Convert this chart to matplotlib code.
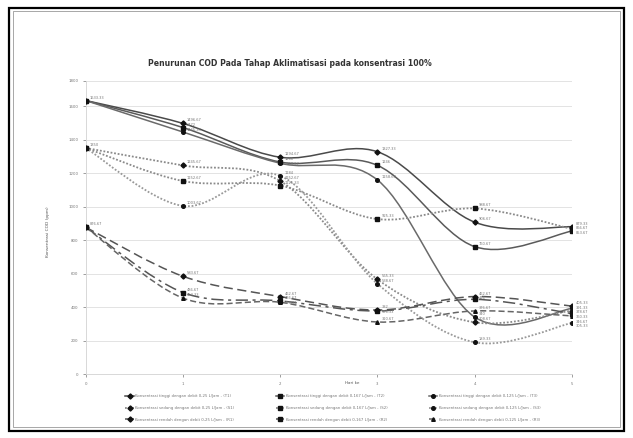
import numpy as np
import matplotlib.pyplot as plt
from matplotlib.path import Path
from matplotlib.patches import PathPatch, Rectangle
from matplotlib.lines import Line2D
from matplotlib.transforms import IdentityTransform

days = [0, 1, 2, 3, 4, 5]

# konsentrasi tinggi
tinggi_025 = [1633.33, 1496.67, 1294.67, 1327.33, 906.67, 879.33]
tinggi_0167 = [1633.33, 1472, 1266, 1246, 760.67, 853.67]
tinggi_0125 = [1633.33, 1445.33, 1258.67, 1158.67, 340, 391.33]
# konsentrasi sedang
sedang_025 = [1350, 1245.67, 1152.67, 565.33, 308.67, 378.67]
sedang_0167 = [1350, 1152.67, 1125.33, 925.33, 988.67, 866.67]
sedang_0125 = [1350, 1003.67, 1184, 538.67, 189.33, 305.33]
# konsentrasi rendah
rendah_025 = [876.67, 583.67, 462.67, 382, 462.67, 405.33]
rendah_0167 = [876.67, 486.67, 436.67, 376.33, 446, 360.33]
rendah_0125 = [876.67, 453.33, 428.33, 310.67, 376.67, 346.67]

names = [
    "Konsentrasi tinggi dengan debit 0,25 L/Jam - (T1)",
    "Konsentrasi tinggi dengan debit 0,167 L/Jam - (T2)",
    "Konsentrasi tinggi dengan debit 0,125 L/Jam - (T3)",
    "Konsentrasi sedang dengan debit 0,25 L/Jam - (S1)",
    "Konsentrasi sedang dengan debit 0,167 L/Jam - (S2)",
    "Konsentrasi sedang dengan debit 0,125 L/Jam - (S3)",
    "Konsentrasi rendah dengan debit 0,25 L/Jam - (R1)",
    "Konsentrasi rendah dengan debit 0,167 L/Jam - (R2)",
    "Konsentrasi rendah dengan debit 0,125 L/Jam - (R3)",
]
series = [tinggi_025, tinggi_0167, tinggi_0125,
          sedang_025, sedang_0167, sedang_0125,
          rendah_025, rendah_0167, rendah_0125]

# style per series: colour, linewidth, dash pattern, marker
styles = [
    ("#4a4a4a", 1.1, None, "D"),
    ("#5a5a5a", 1.1, None, "s"),
    ("#6a6a6a", 1.1, None, "o"),
    ("#8a8a8a", 1.3, (0, (1, 1)), "D"),
    ("#8a8a8a", 1.3, (0, (1, 1)), "s"),
    ("#999999", 1.3, (0, (1, 1)), "o"),
    ("#555555", 1.1, (0, (6, 3)), "D"),
    ("#555555", 1.1, (0, (8, 3, 2, 3)), "s"),
    ("#666666", 1.1, (0, (4, 2)), "^"),
]


def fmt(v):
    return f"{v:.0f}" if v == int(v) else f"{v:.2f}"


def smooth_path(ax, x, y):
    # excel-like smoothed line: cubic bezier through the points, in pixel space
    pts = ax.transData.transform(np.column_stack([x, y]))
    n = len(pts)
    verts = [pts[0]]
    codes = [Path.MOVETO]
    for i in range(n - 1):
        p0 = pts[i - 1] if i > 0 else pts[i]
        p1 = pts[i]
        p2 = pts[i + 1]
        p3 = pts[i + 2] if i + 2 < n else pts[i + 1]
        c1 = p1 + (p2 - p0) / 6
        c2 = p2 - (p3 - p1) / 6
        verts += [c1, c2, p2]
        codes += [Path.CURVE4] * 3
    return Path(verts, codes)


W, H = 633, 438
fig = plt.figure(figsize=(W / 100, H / 100), dpi=100)
ax = fig.add_axes([85.7 / W, 1 - 374 / H, (572 - 85.7) / W, (374 - 81) / H])
ax.set_xlim(0, 5)
ax.set_ylim(0, 1750)

yt = [0, 200, 400, 600, 800, 1000, 1200, 1400, 1600, 1750]
ax.set_yticks(yt)
ax.set_yticklabels([str(v) for v in yt[:-1]] + ["1800"])
ax.set_xticks(days)
ax.tick_params(labelsize=2.8, colors="#777777", length=2, width=0.5)
ax.grid(axis="y", color="#e3e3e3", lw=0.7)
ax.set_axisbelow(True)
for s in ["top", "right"]:
    ax.spines[s].set_visible(False)
for s in ["left", "bottom"]:
    ax.spines[s].set_color("#d8d8d8")
    ax.spines[s].set_linewidth(0.7)

handles = []
labels = {d: [] for d in days}
for k, (vals, (col, lw, dash, mk), nm) in enumerate(zip(series, styles, names)):
    path = smooth_path(ax, days, vals)
    patch = PathPatch(path, transform=IdentityTransform(), fill=False,
                      edgecolor=col, lw=lw, linestyle=dash if dash else "-",
                      zorder=3)
    ax.add_artist(patch)
    ax.plot(days, vals, ls="none", marker=mk, ms=2.6, color="#111111", zorder=4)
    for d, v in zip(days, vals):
        if d == 0 and k % 3 != 0:
            continue  # start values coincide, label them once per group
        labels[d].append(v)
    handles.append(Line2D([], [], color=col, lw=lw, linestyle=dash if dash else "-",
                          marker=mk, ms=2.6, mfc="#111111", mec="#111111"))

# data labels, pushed apart vertically so they do not sit on top of each other
gap = 4.6
for d, vals in labels.items():
    vals = sorted(vals, reverse=True)
    py = [ax.transData.transform((d, v))[1] for v in vals]
    ly = []
    for p in py:
        y = p + 3
        if ly and y > ly[-1] - gap:
            y = ly[-1] - gap
        ly.append(y)
    for v, p, y in zip(vals, py, ly):
        ax.annotate(fmt(v), (d, v), xytext=(3, (y - p) * 0.72),
                    textcoords="offset points", va="center",
                    fontsize=2.6, color="#777777", zorder=5)

order = [0, 3, 6, 1, 4, 7, 2, 5, 8]
leg = fig.legend([handles[i] for i in order], [names[i] for i in order],
                 ncol=3, loc="center", bbox_to_anchor=(333 / W, 1 - 408 / H),
                 frameon=False, fontsize=2.8, handlelength=2.2,
                 columnspacing=10.6, labelspacing=2.0, handletextpad=0.4)
for t in leg.get_texts():
    t.set_color("#777777")

fig.text(290 / W, 1 - 63 / H,
         "Penurunan COD Pada Tahap Aklimatisasi pada konsentrasi 100%",
         ha="center", va="center", fontsize=5.6, fontweight="bold", color="#333333")
fig.text(48 / W, 1 - 232 / H, "Konsentrasi COD (ppm)", rotation=90,
         ha="center", va="center", fontsize=3.2, color="#555555")
fig.text(352 / W, 1 - 383 / H, "Hari ke", ha="center", va="center",
         fontsize=3.0, color="#555555")

# border around the picture
fig.add_artist(Rectangle((9 / W, 1 - 431 / H), 615 / W, 423 / H,
                         transform=fig.transFigure, fill=False, lw=1.6,
                         edgecolor="black"))
fig.add_artist(Rectangle((13 / W, 1 - 427 / H), 607 / W, 416 / H,
                         transform=fig.transFigure, fill=False, lw=0.4,
                         edgecolor="#666666"))

fig.savefig("out.png", dpi=100)
